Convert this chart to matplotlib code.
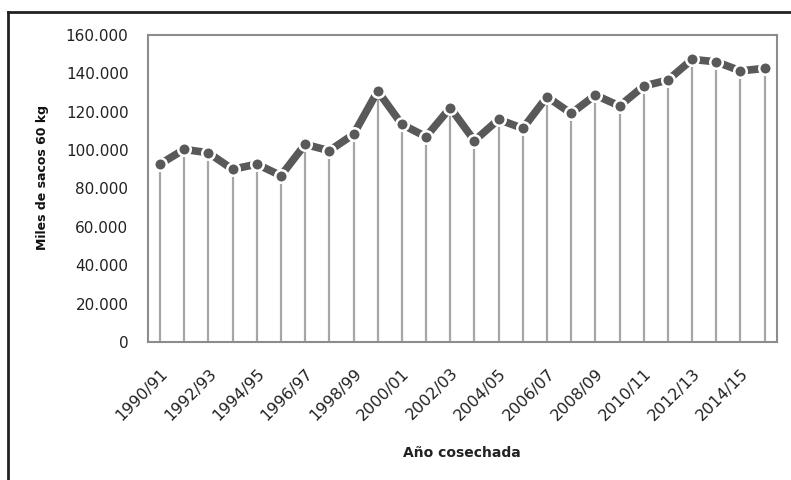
import numpy as np
import matplotlib.pyplot as plt
from matplotlib.lines import Line2D
from matplotlib.ticker import FuncFormatter

# campañas 1990/91 .. 2015/16
cosechas = ["1990/91", "1991/92", "1992/93", "1993/94", "1994/95", "1995/96",
            "1996/97", "1997/98", "1998/99", "1999/00", "2000/01", "2001/02",
            "2002/03", "2003/04", "2004/05", "2005/06", "2006/07", "2007/08",
            "2008/09", "2009/10", "2010/11", "2011/12", "2012/13", "2013/14",
            "2014/15", "2015/16"]

# miles de sacos de 60 kg
produccion = [92700, 100400, 98600, 90000, 92700, 86700, 103000, 99700,
              108200, 130800, 113400, 107000, 122100, 104900, 116000, 111300,
              127800, 119100, 128700, 123000, 133400, 136500, 147300, 146000,
              141300, 142600]

x = np.arange(len(cosechas))

fig = plt.figure(figsize=(7.91, 4.80), dpi=100)
ax = fig.add_axes([0.187, 0.2875, 0.795, 0.6396])

# lineas de caida
ax.vlines(x, 0, produccion, color="#a6a6a6", lw=1.6, zorder=1)

# serie
ax.plot(x, produccion, color="#595959", lw=5.5, zorder=2, solid_capstyle="round")
ax.plot(x, produccion, "o", ms=9, mfc="#595959", mec="white", mew=1.8, zorder=3)

ax.set_xlim(-0.5, 25.5)
ax.set_ylim(0, 160000)
ax.set_yticks(np.arange(0, 160001, 20000))
ax.yaxis.set_major_formatter(FuncFormatter(lambda v, p: "{:,.0f}".format(v).replace(",", ".")))
ax.set_xticks(x[::2])
ax.set_xticklabels(cosechas[::2], rotation=45, ha="right", rotation_mode="anchor",
                   fontsize=11.5, color="#222222")
ax.tick_params(axis="x", length=0, pad=17)
ax.tick_params(axis="y", length=0, pad=14, labelsize=11, labelcolor="#222222")

for s in ax.spines.values():
    s.set_color("#8c8c8c")
    s.set_linewidth(1.5)

ax.set_xlabel("Año cosechada", fontsize=10, fontweight="bold", color="#222222")
ax.xaxis.set_label_coords(0.5, -0.34)
ax.set_ylabel("Miles de sacos 60 kg", fontsize=9, fontweight="bold", color="#111111")
ax.yaxis.set_label_coords(-0.158, 0.537)

# marco exterior (solo arriba e izquierda)
fig.add_artist(Line2D([8 / 791, 1], [1 - 12 / 480, 1 - 12 / 480], transform=fig.transFigure,
                      color="#222222", lw=2))
fig.add_artist(Line2D([8 / 791, 8 / 791], [0, 1 - 12 / 480], transform=fig.transFigure,
                      color="#222222", lw=2))

fig.savefig("out.png", dpi=100)
